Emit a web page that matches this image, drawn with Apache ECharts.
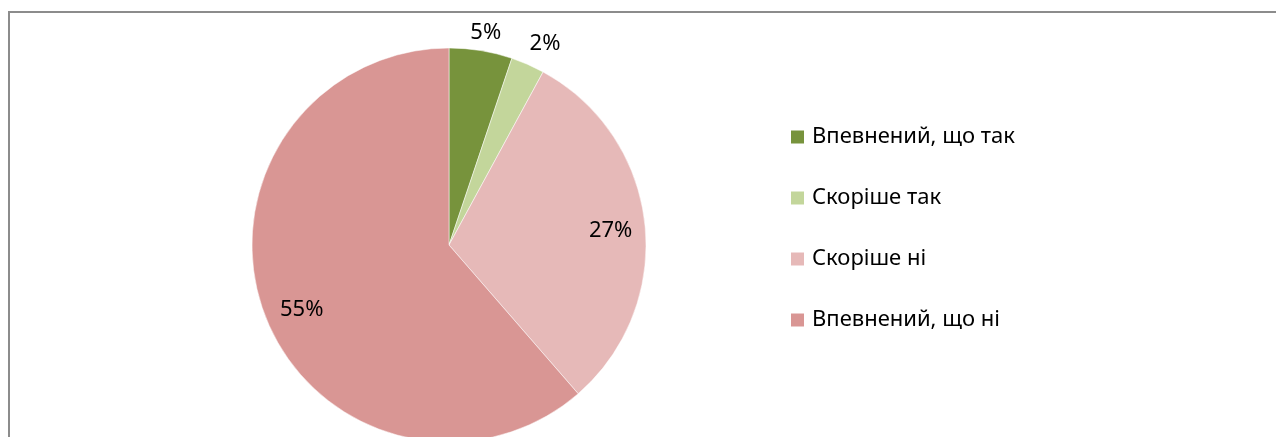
<!DOCTYPE html>
<html>
<head>
<meta charset="utf-8">
<script src="https://cdn.jsdelivr.net/npm/echarts@6/dist/echarts.min.js"></script>
<style>
  html, body { margin: 0; padding: 0; background: #fff; }
  #chart { width: 1276px; height: 437px; }
</style>
</head>
<body>
<div id="chart"></div>
<script>
// категорії та значення
const categories = ['Впевнений, що так', 'Скоріше так', 'Скоріше ні', 'Впевнений, що ні']
const values = [4.6, 2.45, 27.3, 54.6]
const colors = ['#77933C', '#C3D69B', '#E6B9B8', '#D99694']
// які підписи ставити над колом, а які всередині
const outerLabel = [true, true, false, false]
// невеликий зсув підписів (як "best fit" в Excel)
const labelOffsets = [[2, 0], [10, -4], [0, 3], [5, 8]]

const center = [449, 245]
const R = 197
const font = '"Noto Sans", sans-serif'

const chart = echarts.init(document.getElementById('chart'))

const pieData = categories.map((name, i) => ({
    name,
    value: values[i],
    itemStyle: { color: colors[i] }
}))

// прозорі кільця лише для підписів
const labelRing = (radius, showFn) => ({
    type: 'pie',
    center,
    radius,
    silent: true,
    legendHoverLink: false,
    emphasis: { disabled: true },
    itemStyle: { color: 'rgba(0,0,0,0)' },
    labelLine: { show: false },
    data: categories.map((name, i) => ({
        name,
        value: values[i],
        label: {
            show: showFn(i),
            position: 'inside',
            offset: labelOffsets[i],
            formatter: p => Math.round(p.value) + '%',
            color: '#000',
            fontSize: 22,
            fontFamily: font
        }
    }))
})

const option = {
    animation: false,
    color: colors,
    legend: {
        orient: 'vertical',
        left: 789,
        top: 126,
        padding: 0,
        itemWidth: 15,
        itemHeight: 15,
        itemGap: 39,
        icon: 'rect',
        selectedMode: false,
        data: categories,
        textStyle: {
            color: '#000',
            fontSize: 22,
            fontFamily: font,
            padding: [0, 0, 0, 2]
        }
    },
    graphic: [
        {
            type: 'polyline',
            silent: true,
            shape: { points: [[9, 437], [9, 12], [1276, 12]] },
            style: { stroke: '#8c8c8c', lineWidth: 2, fill: null }
        }
    ],
    series: [
        {
            type: 'pie',
            center,
            radius: [0, R],
            startAngle: 90,
            clockwise: true,
            label: { show: false },
            labelLine: { show: false },
            emphasis: { disabled: true },
            itemStyle: { borderColor: '#fff', borderWidth: 0.5 },
            data: pieData
        },
        labelRing([R + 2, R + 28], i => outerLabel[i]),
        labelRing([R * 0.62, R], i => !outerLabel[i])
    ]
}

chart.setOption(option)
</script>
</body>
</html>
